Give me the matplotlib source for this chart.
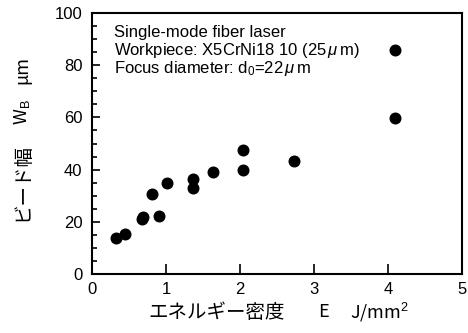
import numpy as np
from matplotlib import pyplot as plt
from matplotlib.ticker import MultipleLocator

plt.rcParams['font.family'] = ['Liberation Sans', 'Noto Sans CJK JP', 'DejaVu Sans']
plt.rcParams['mathtext.fontset'] = 'custom'
plt.rcParams['mathtext.rm'] = 'Liberation Sans'
plt.rcParams['mathtext.it'] = 'Liberation Sans:italic'

# エネルギー密度 E (J/mm2) とビード幅 WB (um)
energy = [0.32, 0.45, 0.67, 0.69, 0.81, 0.90, 1.01, 1.36, 1.36, 1.63, 2.04, 2.04, 2.73, 4.09, 4.09]
width = [13.7, 15.2, 21.2, 22.0, 30.6, 22.3, 34.9, 36.4, 33.1, 39.1, 47.6, 39.7, 43.2, 59.6, 85.8]

notes = ['Single-mode fiber laser',
         'Workpiece: X5CrNi18 10 (25$\\,\\mu\\,$m)',
         'Focus diameter: d$_0$=22$\\,\\mu\\,$m']

W, H = 468, 333
fig = plt.figure(figsize=(W / 100, H / 100), dpi=100)
ax = fig.add_axes([92 / W, 1 - 274 / H, 370 / W, 261 / H])

ax.scatter(energy, width, s=58, color='black', zorder=3)

ax.set_xlim(0, 5)
ax.set_ylim(0, 100)
ax.xaxis.set_major_locator(MultipleLocator(1))
ax.yaxis.set_major_locator(MultipleLocator(20))
ax.yaxis.set_minor_locator(MultipleLocator(5))
ax.tick_params(axis='both', which='both', direction='in', labelsize=12, width=1.2)
ax.tick_params(axis='x', which='major', length=7, pad=6)
ax.tick_params(axis='y', which='major', length=6, pad=7)
ax.tick_params(axis='y', which='minor', length=3.5)
for s in ax.spines.values():
    s.set_linewidth(1.5)

for i, t in enumerate(notes):
    ax.text(0.059, 0.927 - i * 0.069, t, transform=ax.transAxes, fontsize=12,
            va='center', ha='left')

jp = ['Noto Sans CJK JP', 'DejaVu Sans']
# x軸ラベル
fig.text(148 / W, 1 - 312 / H, 'エネルギー密度', family=jp, fontsize=14,
         ha='left', va='center')
fig.text(323 / W, 1 - 312 / H, 'E', family=jp, fontsize=13, ha='center', va='center')
fig.text(350 / W, 1 - 312 / H, 'J/mm$^2$', family=jp, fontsize=13, ha='left', va='center')
# y軸ラベル
fig.text(22 / W, 1 - 182 / H, 'ビード幅', family=jp, fontsize=14, rotation=90,
         ha='center', va='center')
fig.text(22 / W, 1 - 112 / H, 'W$_\\mathrm{B}$', family=jp, fontsize=13, rotation=90,
         ha='center', va='center')
fig.text(22 / W, 1 - 70 / H, 'μm', family=jp, fontsize=13, rotation=90,
         ha='center', va='center')

plt.savefig('out.png', dpi=100)
